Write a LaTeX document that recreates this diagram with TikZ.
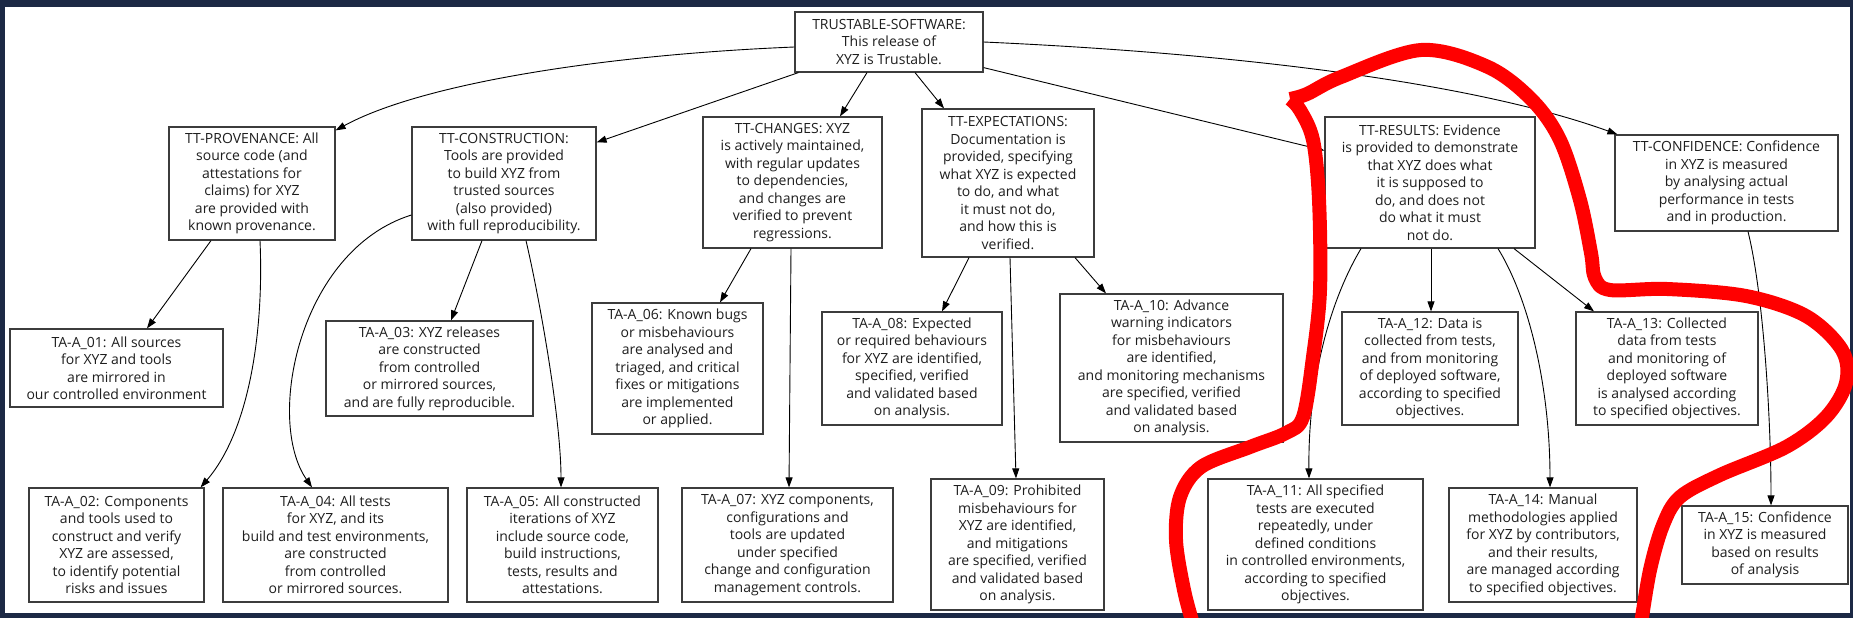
\documentclass[tikz,border=0pt]{standalone}
\usepackage{fontspec}
\setmainfont{Open Sans}
\usetikzlibrary{arrows.meta}
\definecolor{framec}{RGB}{28,41,69}
\definecolor{boxline}{RGB}{60,60,60}
\definecolor{ink}{RGB}{30,30,30}
\definecolor{marker}{RGB}{255,0,0}
\begin{document}
\begin{tikzpicture}[x=1pt,y=-1pt,
  claim/.style={draw=boxline, line width=1.2pt, fill=white, align=center,
    inner sep=1pt, text=ink, font=\fontsize{14}{17.5}\selectfont},
  link/.style={draw=black, line width=0.9pt, -{Triangle[length=10pt,width=7pt]}},
  scribble/.style={draw=marker, line width=14pt, line cap=butt, line join=round},
]
\useasboundingbox (0,0) rectangle (1853,618);
% page frame
\fill[framec] (0,0) rectangle (1853,618);
\fill[white] (5,7) rectangle (1850,613);

% top goal
\node[claim, minimum width=188pt, minimum height=60pt] (root) at (889,42)
  {TRUSTABLE-SOFTWARE:\\This release of\\XYZ is Trustable.};

% TT level
\node[claim, minimum width=166pt, minimum height=113pt] (prov) at (252,183.5)
  {TT-PROVENANCE: All\\source code (and\\attestations for\\claims) for XYZ\\are provided with\\known provenance.};
\node[claim, minimum width=184pt, minimum height=113pt] (cons) at (504,183.5)
  {TT-CONSTRUCTION:\\Tools are provided\\to build XYZ from\\trusted sources\\(also provided)\\with full reproducibility.};
\node[claim, minimum width=179pt, minimum height=131pt] (chg) at (792.5,182.5)
  {TT-CHANGES: XYZ\\is actively maintained,\\with regular updates\\to dependencies,\\and changes are\\verified to prevent\\regressions.};
\node[claim, minimum width=172pt, minimum height=148pt] (expc) at (1008,183)
  {TT-EXPECTATIONS:\\Documentation is\\provided, specifying\\what XYZ is expected\\to do, and what\\it must not do,\\and how this is\\verified.};
\node[claim, minimum width=210pt, minimum height=131pt] (res) at (1430,182.5)
  {TT-RESULTS: Evidence\\is provided to demonstrate\\that XYZ does what\\it is supposed to\\do, and does not\\do what it must\\not do.};
\node[claim, minimum width=223pt, minimum height=96pt] (conf) at (1726.5,183)
  {TT-CONFIDENCE: Confidence\\in XYZ is measured\\by analysing actual\\performance in tests\\and in production.};

% TA level, upper row
\node[claim, minimum width=213pt, minimum height=78pt] (a01) at (116.5,368)
  {TA-A\_01: All sources\\for XYZ and tools\\are mirrored in\\our controlled environment};
\node[claim, minimum width=207pt, minimum height=95pt] (a03) at (429.5,368.5)
  {TA-A\_03: XYZ releases\\are constructed\\from controlled\\or mirrored sources,\\and are fully reproducible.};
\node[claim, minimum width=171pt, minimum height=131pt] (a06) at (677.5,368.5)
  {TA-A\_06: Known bugs\\or misbehaviours\\are analysed and\\triaged, and critical\\fixes or mitigations\\are implemented\\or applied.};
\node[claim, minimum width=180pt, minimum height=113pt] (a08) at (912,368.5)
  {TA-A\_08: Expected\\or required behaviours\\for XYZ are identified,\\specified, verified\\and validated based\\on analysis.};
\node[claim, minimum width=223pt, minimum height=148pt] (a10) at (1171.5,368)
  {TA-A\_10: Advance\\warning indicators\\for misbehaviours\\are identified,\\and monitoring mechanisms\\are specified, verified\\and validated based\\on analysis.};
\node[claim, minimum width=176pt, minimum height=113pt] (a12) at (1430,368.5)
  {TA-A\_12: Data is\\collected from tests,\\and from monitoring\\of deployed software,\\according to specified\\objectives.};
\node[claim, minimum width=182pt, minimum height=113pt] (a13) at (1667,368.5)
  {TA-A\_13: Collected\\data from tests\\and monitoring of\\deployed software\\is analysed according\\to specified objectives.};

% TA level, lower row
\node[claim, minimum width=175pt, minimum height=114pt] (a02) at (116.5,545)
  {TA-A\_02: Components\\and tools used to\\construct and verify\\XYZ are assessed,\\to identify potential\\risks and issues};
\node[claim, minimum width=225pt, minimum height=114pt] (a04) at (335.5,545)
  {TA-A\_04: All tests\\for XYZ, and its\\build and test environments,\\are constructed\\from controlled\\or mirrored sources.};
\node[claim, minimum width=191pt, minimum height=114pt] (a05) at (562.5,545)
  {TA-A\_05: All constructed\\iterations of XYZ\\include source code,\\build instructions,\\tests, results and\\attestations.};
\node[claim, minimum width=211pt, minimum height=114pt] (a07) at (787.5,545)
  {TA-A\_07: XYZ components,\\configurations and\\tools are updated\\under specified\\change and configuration\\management controls.};
\node[claim, minimum width=173pt, minimum height=131pt] (a09) at (1017.5,544.5)
  {TA-A\_09: Prohibited\\misbehaviours for\\XYZ are identified,\\and mitigations\\are specified, verified\\and validated based\\on analysis.};
\node[claim, minimum width=215pt, minimum height=131pt] (a11) at (1315.5,544.5)
  {TA-A\_11: All specified\\tests are executed\\repeatedly, under\\defined conditions\\in controlled environments,\\according to specified\\objectives.};
\node[claim, minimum width=188pt, minimum height=114pt] (a14) at (1543,545)
  {TA-A\_14: Manual\\methodologies applied\\for XYZ by contributors,\\and their results,\\are managed according\\to specified objectives.};
\node[claim, minimum width=166pt, minimum height=78pt] (a15) at (1765,545)
  {TA-A\_15: Confidence\\in XYZ is measured\\based on results\\of analysis};

% links from the top goal
\draw[link] ([yshift=-5pt]root.west) .. controls +(-195,8) and +(84,-46) .. ([yshift=-4pt]prov.north east);
\draw[link] ([xshift=4pt]root.south west) -- ([yshift=-16pt]cons.north east);
\draw[link] ([xshift=-22pt]root.south) -- ([xshift=47.5pt]chg.north);
\draw[link] ([xshift=26pt]root.south) -- ([xshift=-64pt]expc.north);
\draw[link] ([yshift=5pt]root.south east) -- ([yshift=32pt]res.west);
\draw[link] (root.east) .. controls +(267,12) and +(-138,-50) .. ([xshift=3pt]conf.north west);

% links below the TT claims
\draw[link] ([xshift=-41pt]prov.south) -- ([xshift=30.5pt]a01.north);
\draw[link] ([xshift=8pt]prov.south) .. controls +(4,90) and +(49,-57) .. ([xshift=-4pt]a02.north east);
\draw[link] ([yshift=-31.5pt]cons.west) .. controls +(-112,35) and +(-47,-68) .. ([xshift=-23.5pt]a04.north);
\draw[link] ([xshift=-22pt]cons.south) -- ([xshift=21.5pt]a03.north);
\draw[link] ([xshift=22pt]cons.south) .. controls +(14,60) and +(0,-68) .. ([xshift=-1.5pt]a05.north);
\draw[link] ([xshift=-41.5pt]chg.south) -- ([xshift=42.5pt]a06.north);
\draw[link] ([xshift=-1.5pt]chg.south) -- ([xshift=1.5pt]a07.north);
\draw[link] ([xshift=-39pt]expc.south) -- ([xshift=30pt]a08.north);
\draw[link] ([xshift=2pt]expc.south) -- ([xshift=-1.5pt]a09.north);
\draw[link] ([xshift=67pt]expc.south) -- ([xshift=-65.5pt]a10.north);
\draw[link] ([xshift=-69pt]res.south) .. controls +(-31,52) and +(-1,-99) .. ([xshift=-6.5pt]a11.north);
\draw[link] ([xshift=1pt]res.south) -- ([xshift=1pt]a12.north);
\draw[link] ([xshift=68pt]res.south) .. controls +(32,52) and +(0,-98) .. ([xshift=7pt]a14.north);
\draw[link] ([xshift=84pt]res.south) -- ([xshift=-73pt]a13.north);
\draw[link] ([xshift=21.5pt]conf.south) .. controls +(15,60) and +(0,-90) .. ([xshift=6pt]a15.north);

% freehand red outline
\draw[scribble] plot[smooth, tension=0.55] coordinates {(1193,624) (1184,590) (1176,540) (1180,497) (1201,467) (1250,447) (1286,433) (1303,417) (1313,357) (1320,290) (1319,200) (1313,140) (1300,110) (1290,99)};
\draw[scribble] plot[smooth, tension=0.55] coordinates {(1290,99) (1307,94) (1341,77) (1421,50) (1488,67) (1532,100) (1560,140) (1580,200) (1591,253) (1595,278) (1610,290) (1667,289) (1746,296) (1806,316) (1842,350) (1846,383) (1826,417) (1786,447) (1720,475) (1680,497) (1663,525) (1650,570) (1641,624)};
\end{tikzpicture}
\end{document}
